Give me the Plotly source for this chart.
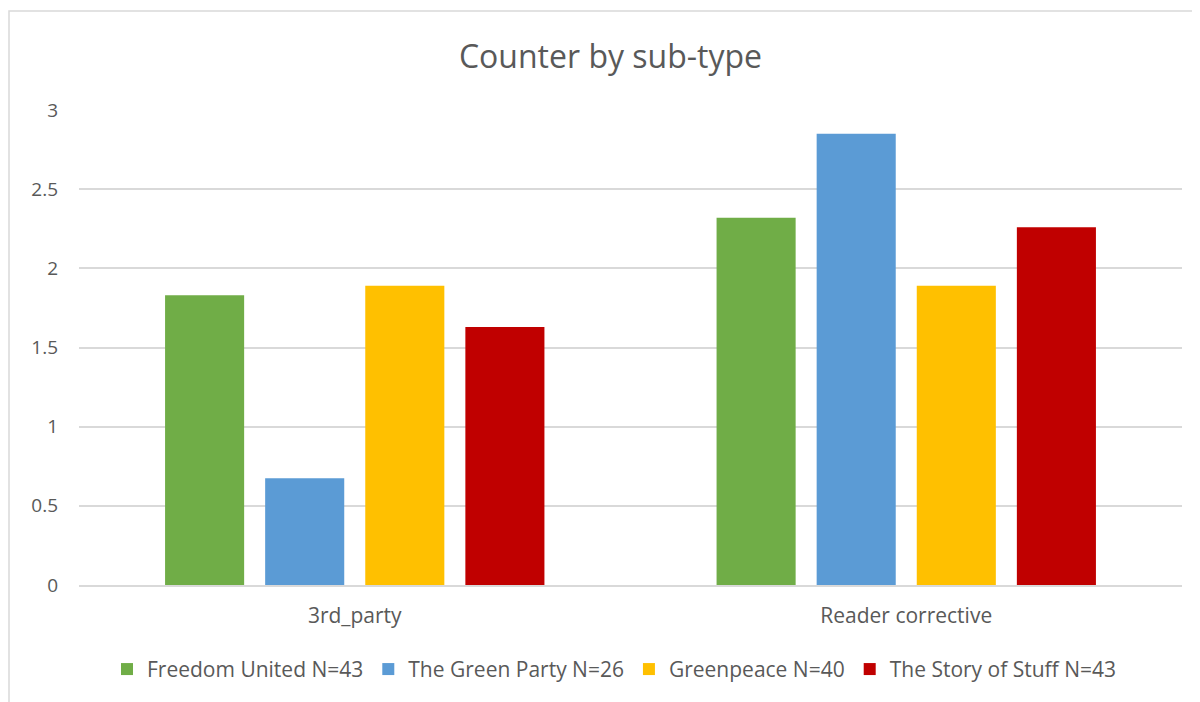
import plotly.graph_objects as go

categories = ["3rd_party", "Reader corrective"]
series_names = ["Freedom United N=43", "The Green Party N=26", "Greenpeace N=40", "The Story of Stuff N=43"]
freedom_united = [1.83, 2.32]
green_party = [0.675, 2.85]
greenpeace = [1.89, 1.89]
story_of_stuff = [1.63, 2.26]
colors = ["#70AD47", "#5B9BD5", "#FFC000", "#C00000"]

series_values = [freedom_united, green_party, greenpeace, story_of_stuff]

FONT = "Open Sans, Lato, sans-serif"
GRAY = "#595959"

fig = go.Figure()
for name, vals, col in zip(series_names, series_values, colors):
    fig.add_trace(go.Bar(
        x=categories, y=vals, name=name,
        marker=dict(color=col, line=dict(width=0)),
    ))

# page body has an 8px margin, so figure coords = window coords - 8
OFF = 8
W, H = 1192, 694
L, R, T, B = 79 - OFF, 18, 110 - OFF, 116.5
pw = W - L - R
ph = H - T - B

fig.update_layout(
    width=W, height=H,
    margin=dict(l=L, r=R, t=T, b=B, pad=0),
    paper_bgcolor="white", plot_bgcolor="white",
    barmode="group", bargap=0.274, bargroupgap=0.21,
    title=dict(text="Counter by sub-type", x=(610.5 - OFF) / W, xanchor="center",
               y=1 - (57 - OFF) / H, yanchor="middle",
               font=dict(family=FONT, size=32, color=GRAY)),
    font=dict(family=FONT, size=19, color=GRAY),
    xaxis=dict(showline=True, linecolor="#d9d9d9", linewidth=1.5,
               ticks="", tickfont=dict(size=21, color=GRAY), ticklabelstandoff=11),
    yaxis=dict(range=[0, 3], dtick=0.5, showgrid=True, gridcolor="#d9d9d9",
               gridwidth=1.5, zeroline=False, ticks="",
               tickfont=dict(size=19, color=GRAY), ticklabelstandoff=20,
               tickformat="~g"),
    legend=dict(orientation="h", x=(614.5 - OFF - L) / pw, xanchor="center",
                y=-(670 - OFF - (T + ph)) / ph, yanchor="middle",
                font=dict(size=21, color=GRAY), itemwidth=30,
                traceorder="normal"),
    showlegend=True,
)

# outer chart border (light gray)
fig.add_shape(type="rect", xref="paper", yref="paper",
              x0=(9 - OFF - L) / pw, x1=(1260 - L) / pw,
              y0=-(760 - T - ph) / ph, y1=(T + ph - (11 - OFF)) / ph,
              line=dict(color="#d9d9d9", width=1.5), fillcolor="rgba(0,0,0,0)",
              layer="below")

fig.write_html("out.html")
